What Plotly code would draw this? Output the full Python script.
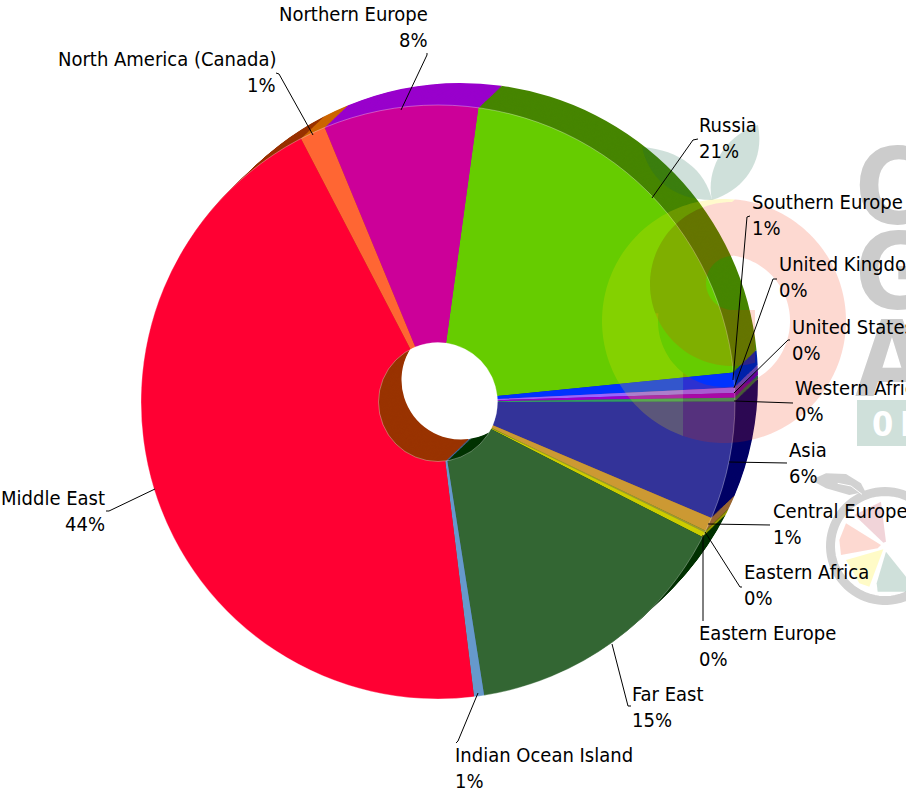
import numpy as np
import plotly.graph_objects as go

# ---- chart data ----
regions = ["Russia", "Southern Europe", "United Kingdom", "United States", "Western Africa",
           "Asia", "Central Europe", "Eastern Africa", "Eastern Europe", "Far East",
           "Indian Ocean Island", "Middle East", "North America (Canada)", "Northern Europe"]
shares = [21.25, 0.8, 0.3, 0.25, 0.22, 6.4, 0.75, 0.1, 0.28, 15.0, 0.55, 44.3, 1.4, 8.4]
share_labels = ["21%", "1%", "0%", "0%", "0%", "6%", "1%", "0%", "0%", "15%", "1%", "44%", "1%", "8%"]
top_colors = ["#66CC00", "#0033FF", "#9966FF", "#9900CC", "#339966", "#333399", "#CC9933",
              "#999933", "#CCCC00", "#336633", "#6699CC", "#FF0033", "#FF6633", "#CC0099"]
side_colors = ["#468500", "#0022AA", "#6644AA", "#660099", "#226644", "#000066", "#996633",
               "#666600", "#999900", "#003300", "#446699", "#993300", "#CC6600", "#9900CC"]

W, H = 906, 793
CX, CY, R = 438, 402, 297
HOLE_R = 59.5
HOLE = HOLE_R / R
ROT = 7.8
DEPTH_X, DEPTH_Y = 23, -22
LAYERS = 24


def px(x):
    return x / W


def py(y):
    return 1 - y / H


def pt(x, y):
    return f"{px(x):.5f},{py(y):.5f}"


def poly(points, close=True):
    s = "M" + " L".join(pt(x, y) for x, y in points)
    return s + (" Z" if close else "")


def arc(cx, cy, r, a0, a1, n=60):
    """angles in degrees, clockwise from top"""
    t = np.radians(np.linspace(a0, a1, n))
    return list(zip(cx + r * np.sin(t), cy - r * np.cos(t)))


def ang(cx, cy, x, y):
    return np.degrees(np.arctan2(x - cx, cy - y)) % 360


fig = go.Figure()


def add_pie(ox, oy, colors):
    fig.add_trace(go.Pie(
        labels=regions, values=shares, sort=False, direction="clockwise", rotation=ROT,
        hole=HOLE, textinfo="none", hoverinfo="label+percent", showlegend=False,
        marker=dict(colors=colors, line=dict(width=0)),
        domain=dict(x=[(CX + ox - R) / W, (CX + ox + R) / W],
                    y=[1 - (CY + oy + R) / H, 1 - (CY + oy - R) / H]),
    ))


for i in range(LAYERS, 0, -1):
    add_pie(DEPTH_X * i / LAYERS, DEPTH_Y * i / LAYERS, side_colors)
add_pie(0, 0, top_colors)

# ---- leader lines ----
leaders = [
    [(652, 198), (693, 140), (698, 139)],
    [(733, 380), (747, 217), (750, 216)],
    [(734, 388), (773, 279), (777, 279)],
    [(734, 393), (788, 340), (790, 340)],
    [(734, 401), (793, 403)],
    [(729, 462), (787, 463)],
    [(708, 524), (770, 525)],
    [(705, 532), (740, 587), (742, 587)],
    [(703, 535), (703, 621)],
    [(612, 644), (628, 706), (631, 706)],
    [(478, 693), (458, 741), (456, 743)],
    [(155, 489), (109, 511), (106, 511)],
    [(313, 135), (279, 74), (276, 73)],
    [(401, 110), (427, 55), (427, 53)],
]

shapes = []
# thin light seam along the rim of the top face
for rr in (R, HOLE_R):
    shapes.append(dict(type="circle", x0=px(CX - rr), x1=px(CX + rr), y0=py(CY + rr), y1=py(CY - rr),
                       line=dict(color="rgba(255,255,255,0.4)", width=0.8), fillcolor="rgba(0,0,0,0)",
                       xref="paper", yref="paper", layer="above"))

OUT = (724, 321, 122)
INN = (724, 321, 66)
OLV = (732, 284, 82)
SML = (733, 283, 27)
PEACH = "rgba(244,44,0,0.18)"
YELLOW = "rgba(255,230,0,0.2)"
LEAF = "rgba(15,100,70,0.2)"

# big logo
a_top = ang(OUT[0], OUT[1], 735, 199)
a_bot = ang(OUT[0], OUT[1], 683, 436)
a_i_bot = ang(INN[0], INN[1], 683, 373)
a_i_tip = ang(INN[0], INN[1], 656, 313)
a_o_tip = ang(OLV[0], OLV[1], 656, 313)
tip_side = arc(*OLV, a_o_tip, 360, 40)
yellow_pts = (arc(*OUT, a_top, a_bot - 360, 80)
              + arc(*INN, a_i_bot, a_i_tip, 20) + tip_side)
shapes.append(dict(type="path", path=poly(yellow_pts), fillcolor=YELLOW, line=dict(width=0),
                   xref="paper", yref="paper", layer="above"))
peach_outer = (arc(*OUT, a_top, a_bot, 120) + arc(*INN, a_i_bot, a_i_tip, 20) + tip_side)
a_o_b = ang(OLV[0], OLV[1], 755, 363)
hole_pts = (arc(*INN, ang(INN[0], INN[1], 733, 255.6), a_i_tip, 120)
            + list(reversed(arc(*OLV, a_o_b, a_o_tip, 30)))
            + [(755, 363), (755, 310), (733, 310)]
            + arc(*SML, 180, 360, 40))
shapes.append(dict(type="path", path=poly(peach_outer) + " " + poly(hole_pts), fillcolor=PEACH,
                   line=dict(width=0), xref="paper", yref="paper", layer="above"))


def leaf(a, c1, c2, b, c3, c4, col):
    return dict(type="path",
                path=f"M{pt(*a)} C{pt(*c1)} {pt(*c2)} {pt(*b)} C{pt(*c3)} {pt(*c4)} {pt(*a)} Z",
                fillcolor=col, line=dict(width=0), xref="paper", yref="paper", layer="above")


shapes.append(leaf((712, 200), (705, 170), (680, 150), (642, 147), (648, 175), (670, 200), LEAF))
shapes.append(leaf((712, 200), (705, 170), (725, 135), (758, 125), (765, 160), (745, 190), LEAF))

# green band at the right edge
shapes.append(dict(type="rect", x0=px(857), x1=px(930), y0=py(446), y1=py(400), fillcolor="#CFE0DA",
                   line=dict(width=0), xref="paper", yref="paper", layer="above"))

# small logo
sc = (885, 546, 54.5)
shapes.append(dict(type="path",
                   path=poly(arc(*sc, 0, 360, 80)),
                   fillcolor="rgba(0,0,0,0)", line=dict(color="#D2D2D2", width=9),
                   xref="paper", yref="paper", layer="above"))
sx, sy = 806, 460
wedges = [
    ([(145, 165), (225, 125), (240, 245), (232, 248)], "rgba(190,60,80,0.22)"),
    ([(120, 190), (225, 255), (215, 265), (105, 285), (100, 240)], "rgba(244,44,0,0.18)"),
    ([(120, 300), (232, 268), (190, 380), (160, 370)], "rgba(255,235,0,0.22)"),
    ([(240, 275), (300, 350), (300, 395), (215, 395), (212, 370)], "rgba(15,100,70,0.2)"),
]
for pts, col in wedges:
    shapes.append(dict(type="path", path=poly([(sx + a / 3, sy + b / 3) for a, b in pts]),
                       fillcolor=col, line=dict(width=0), xref="paper", yref="paper", layer="above"))
shapes.append(dict(type="path",
                   path=poly([(sx + a / 3, sy + b / 3) for a, b in
                              [(15, 60), (60, 40), (120, 42), (165, 70), (178, 95), (130, 105), (60, 85)]]),
                   fillcolor="#D2D2D2", line=dict(width=0), xref="paper", yref="paper", layer="above"))
shapes.append(dict(type="path",
                   path=poly([(sx + a / 3, sy + b / 3) for a, b in [(95, 70), (135, 78), (168, 103)]], close=False),
                   line=dict(color="#FFFFFF", width=1), xref="paper", yref="paper", layer="above"))

for seg in leaders:
    shapes.append(dict(type="path", path=poly(seg, close=False), line=dict(color="#000000", width=1),
                       xref="paper", yref="paper", layer="above"))

# ---- texts ----
FONT = "DejaVu Sans Condensed, DejaVu Sans"
LOGO_FONT = "Liberation Sans Narrow, DejaVu Sans Condensed"
label_anchor = [
    ("left", 697, 125), ("left", 750, 202), ("left", 777, 264), ("left", 790, 327), ("left", 793, 388),
    ("left", 787, 450), ("left", 771, 511), ("left", 742, 572), ("left", 697, 633), ("left", 630, 694),
    ("left", 453, 755), ("right", 107, 498), ("right", 278, 59), ("right", 430, 14),
]
annotations = []
for letter, yc in [("C", 187), ("G", 272), ("A", 359)]:
    annotations.append(dict(text=f"<b>{letter}</b>", x=px(853), y=py(yc), xref="paper", yref="paper",
                            xanchor="left", yanchor="middle", showarrow=False,
                            font=dict(family=LOGO_FONT, size=106, color="#CCCCCC")))
for letter, xx in [("0", 870), ("I", 898)]:
    annotations.append(dict(text=f"<b>{letter}</b>", x=px(xx), y=py(424), xref="paper", yref="paper",
                            xanchor="left", yanchor="middle", showarrow=False,
                            font=dict(family=LOGO_FONT, size=34, color="#FFFFFF")))
for name, pct, (side, x, y) in zip(regions, share_labels, label_anchor):
    for txt, yy in ((name, y), (pct, y + 26)):
        annotations.append(dict(text=txt, x=px(x), y=py(yy), xref="paper", yref="paper",
                                xanchor=side, yanchor="middle", showarrow=False,
                                font=dict(family=FONT, size=20, color="#000000")))

fig.update_layout(width=W, height=H, margin=dict(l=0, r=0, t=0, b=0), paper_bgcolor="#FFFFFF",
                  shapes=shapes, annotations=annotations, showlegend=False)
fig.write_html("out.html", config=dict(displayModeBar=False),
               post_script="document.body.style.margin='0';document.documentElement.style.overflow='hidden';")
